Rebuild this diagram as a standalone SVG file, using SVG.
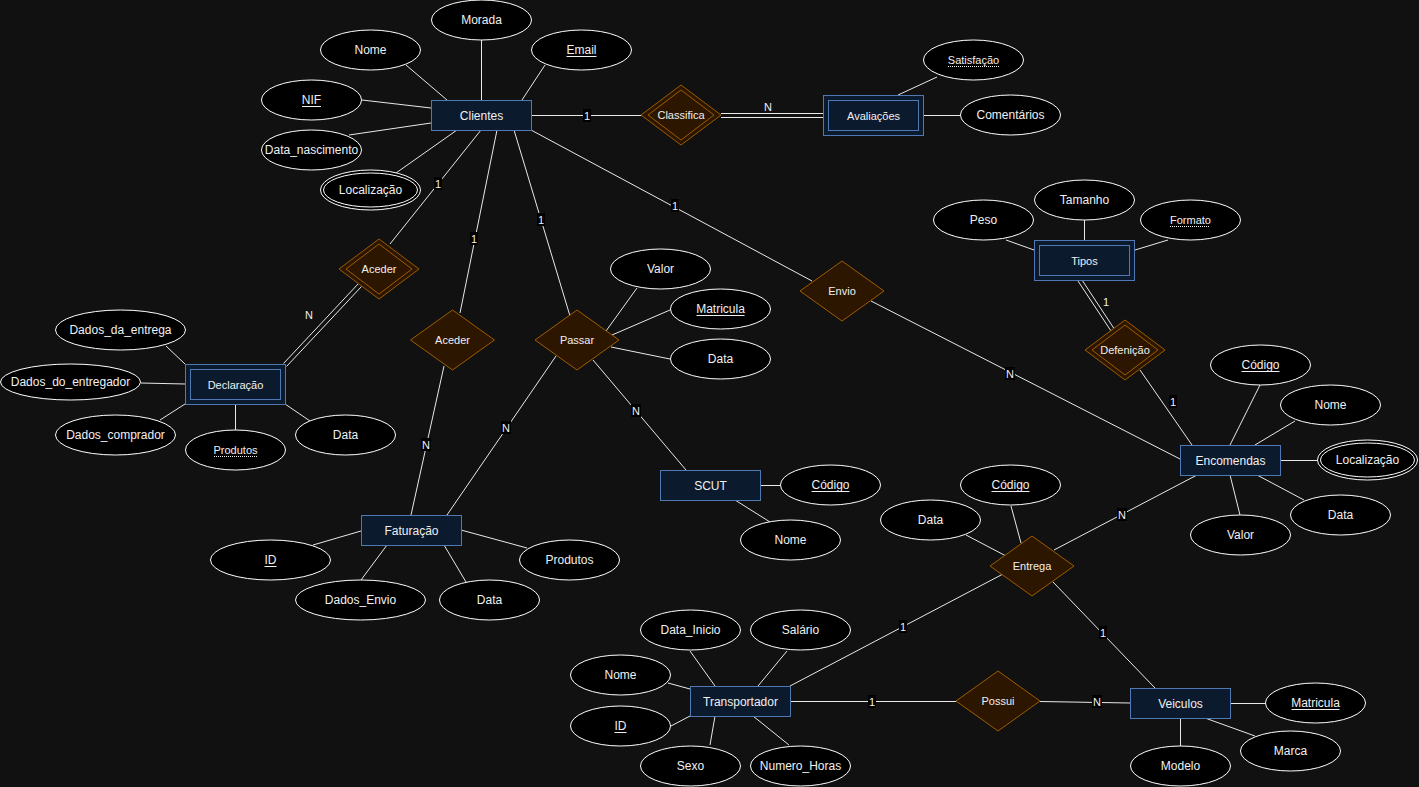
<svg xmlns="http://www.w3.org/2000/svg" width="1419" height="787" viewBox="0 0 1419 787">
  <style>
    .bg { fill: #111111; }
    .ent { fill: #0c1a2e; stroke: #5079b4; stroke-width: 1; }
    .attr { fill: #000000; stroke: #ffffff; stroke-width: 1; }
    .rel { fill: #2c1600; stroke: #9e5b00; stroke-width: 1; }
    .ln { stroke: #e8e8e8; stroke-width: 1; fill: none; }
    .ul { stroke: #f0f0f0; stroke-width: 1; }
    .dul { stroke: #f0f0f0; stroke-width: 1; stroke-dasharray: 1 1; }
    .lblbg { fill: #000000; }
    text { font-family: "Liberation Sans", Arial, sans-serif; fill: #f0f0f0; text-anchor: middle; dominant-baseline: central; }
    .t12 { font-size: 12px; }
    .t11 { font-size: 11px; }
    .lbl { font-size: 11px; }
  </style>

  <rect class="bg" x="0" y="0" width="1419" height="787"/>

  <!-- connectors -->
  <g id="connectors">
    <!-- Clientes attributes -->
    <line class="ln" x1="406" y1="65" x2="447" y2="100"/>
    <line class="ln" x1="481.5" y1="40" x2="481.5" y2="100"/>
    <line class="ln" x1="545" y1="65" x2="522" y2="100"/>
    <line class="ln" x1="362" y1="100" x2="431" y2="108"/>
    <line class="ln" x1="349" y1="135" x2="431" y2="123"/>
    <line class="ln" x1="396" y1="173" x2="457" y2="130"/>
    <!-- Clientes relationships -->
    <line class="ln" x1="531" y1="115.5" x2="641" y2="115.5"/>
    <line class="ln" x1="481" y1="130" x2="390" y2="244"/>
    <line class="ln" x1="497" y1="130" x2="460" y2="313"/>
    <line class="ln" x1="514" y1="130" x2="570" y2="316"/>
    <line class="ln" x1="531" y1="130" x2="812" y2="281"/>
    <!-- Classifica to Avaliacoes (total participation) -->
    <line class="ln" x1="721" y1="113.5" x2="823" y2="113.5"/>
    <line class="ln" x1="721" y1="117.5" x2="823" y2="117.5"/>
    <!-- Avaliacoes attributes -->
    <line class="ln" x1="898" y1="95" x2="937" y2="77"/>
    <line class="ln" x1="923" y1="115.5" x2="960" y2="115.5"/>
    <!-- Aceder to Declaracao (total participation) -->
    <line class="ln" x1="358.5" y1="283.5" x2="283.5" y2="363.5"/>
    <line class="ln" x1="361.5" y1="286.5" x2="286.5" y2="366.5"/>
    <!-- Declaracao attributes -->
    <line class="ln" x1="166" y1="346" x2="185" y2="364"/>
    <line class="ln" x1="141" y1="383" x2="185" y2="384"/>
    <line class="ln" x1="160" y1="420" x2="185" y2="404"/>
    <line class="ln" x1="235.5" y1="404" x2="235.5" y2="430"/>
    <line class="ln" x1="310" y1="421" x2="285" y2="404"/>
    <!-- Aceder / Passar to Faturacao -->
    <line class="ln" x1="444" y1="366" x2="411" y2="515"/>
    <line class="ln" x1="556" y1="356" x2="447" y2="515"/>
    <!-- Passar attributes and SCUT -->
    <line class="ln" x1="606" y1="331" x2="637" y2="288"/>
    <line class="ln" x1="612" y1="335" x2="670" y2="310"/>
    <line class="ln" x1="611" y1="347" x2="670" y2="359"/>
    <line class="ln" x1="593" y1="360" x2="686" y2="470"/>
    <!-- SCUT attributes -->
    <line class="ln" x1="760" y1="485.5" x2="780" y2="485.5"/>
    <line class="ln" x1="735" y1="500" x2="770" y2="522"/>
    <!-- Faturacao attributes -->
    <line class="ln" x1="313" y1="545" x2="361" y2="531"/>
    <line class="ln" x1="361" y1="580" x2="387" y2="545"/>
    <line class="ln" x1="466" y1="582" x2="444" y2="545"/>
    <line class="ln" x1="527" y1="548" x2="461" y2="530"/>
    <!-- Envio to Encomendas -->
    <line class="ln" x1="871" y1="301" x2="1180" y2="459"/>
    <!-- Tipos attributes -->
    <line class="ln" x1="1006" y1="240" x2="1034" y2="250"/>
    <line class="ln" x1="1084.5" y1="220" x2="1084.5" y2="240"/>
    <line class="ln" x1="1168" y1="240" x2="1135" y2="250"/>
    <!-- Tipos to Defenicao (total participation) -->
    <line class="ln" x1="1078" y1="281" x2="1111" y2="331"/>
    <line class="ln" x1="1082" y1="280" x2="1115" y2="330"/>
    <!-- Defenicao to Encomendas -->
    <line class="ln" x1="1140" y1="370" x2="1192" y2="445"/>
    <!-- Encomendas attributes -->
    <line class="ln" x1="1260" y1="385" x2="1230" y2="445"/>
    <line class="ln" x1="1295" y1="421" x2="1255" y2="445"/>
    <line class="ln" x1="1280" y1="460.5" x2="1317" y2="460.5"/>
    <line class="ln" x1="1304" y1="500" x2="1257" y2="475"/>
    <line class="ln" x1="1240" y1="515" x2="1230" y2="475"/>
    <!-- Entrega -->
    <line class="ln" x1="966" y1="535" x2="1006" y2="556"/>
    <line class="ln" x1="1011" y1="506" x2="1021" y2="543"/>
    <line class="ln" x1="1054" y1="550" x2="1197" y2="475"/>
    <line class="ln" x1="1003" y1="574" x2="790" y2="686"/>
    <line class="ln" x1="1053" y1="582" x2="1155" y2="688"/>
    <!-- Transportador attributes -->
    <line class="ln" x1="690" y1="651" x2="715" y2="686"/>
    <line class="ln" x1="787" y1="651" x2="758" y2="686"/>
    <line class="ln" x1="668" y1="683" x2="690" y2="689"/>
    <line class="ln" x1="671" y1="726" x2="690" y2="716"/>
    <line class="ln" x1="715" y1="716" x2="710" y2="745"/>
    <line class="ln" x1="753" y1="716" x2="789" y2="745"/>
    <!-- Possui -->
    <line class="ln" x1="790" y1="701.5" x2="956" y2="701.5"/>
    <line class="ln" x1="1040" y1="701.5" x2="1130" y2="703"/>
    <!-- Veiculos attributes -->
    <line class="ln" x1="1230" y1="703.5" x2="1265" y2="703.5"/>
    <line class="ln" x1="1205" y1="718" x2="1255" y2="736"/>
    <line class="ln" x1="1180.5" y1="718" x2="1180.5" y2="746"/>

    <!-- cardinality labels -->
    <g class="lbls">
      <rect class="lblbg" x="583" y="109" width="8" height="13"/><text class="lbl" x="587" y="115.5">1</text>
      <text class="lbl" x="768" y="107">N</text>
      <rect class="lblbg" x="434" y="177" width="8" height="13"/><text class="lbl" x="438" y="184">1</text>
      <rect class="lblbg" x="470" y="232" width="8" height="13"/><text class="lbl" x="474" y="239">1</text>
      <rect class="lblbg" x="537" y="213" width="8" height="13"/><text class="lbl" x="541" y="220">1</text>
      <rect class="lblbg" x="671" y="199" width="8" height="13"/><text class="lbl" x="675" y="206">1</text>
      <text class="lbl" x="309" y="315">N</text>
      <rect class="lblbg" x="421" y="438" width="10" height="13"/><text class="lbl" x="426" y="445">N</text>
      <rect class="lblbg" x="501" y="421" width="10" height="13"/><text class="lbl" x="506" y="428">N</text>
      <rect class="lblbg" x="631" y="404" width="10" height="13"/><text class="lbl" x="636" y="411">N</text>
      <rect class="lblbg" x="1005" y="367" width="10" height="13"/><text class="lbl" x="1010" y="374">N</text>
      <text class="lbl" x="1106" y="302">1</text>
      <rect class="lblbg" x="1169" y="395" width="8" height="13"/><text class="lbl" x="1173" y="402">1</text>
      <rect class="lblbg" x="1117" y="508" width="10" height="13"/><text class="lbl" x="1122" y="515">N</text>
      <rect class="lblbg" x="899" y="620" width="8" height="13"/><text class="lbl" x="903" y="627">1</text>
      <rect class="lblbg" x="1099" y="626" width="8" height="13"/><text class="lbl" x="1103" y="633">1</text>
      <rect class="lblbg" x="868" y="695" width="8" height="13"/><text class="lbl" x="872" y="701.5">1</text>
      <rect class="lblbg" x="1092" y="695" width="10" height="13"/><text class="lbl" x="1097" y="701.5">N</text>
    </g>
  </g>

  <!-- Clientes -->
  <g id="clientes">
    <rect class="ent" x="431.5" y="100.5" width="100" height="30"/>
    <text class="t12" x="481.5" y="115.5">Clientes</text>
  </g>
  <g id="clientes-morada">
    <ellipse class="attr" cx="481.5" cy="20" rx="50" ry="20"/>
    <text class="t12" x="481.5" y="20">Morada</text>
  </g>
  <g id="clientes-nome">
    <ellipse class="attr" cx="370.5" cy="50" rx="50" ry="20"/>
    <text class="t12" x="370.5" y="50">Nome</text>
  </g>
  <g id="clientes-email">
    <ellipse class="attr" cx="581.5" cy="50" rx="50" ry="20"/>
    <text class="t12" x="581.5" y="50">Email</text>
    <line class="ul" x1="566.5" y1="56.5" x2="596.5" y2="56.5"/>
  </g>
  <g id="clientes-nif">
    <ellipse class="attr" cx="311.5" cy="100" rx="50" ry="20"/>
    <text class="t12" x="311.5" y="100">NIF</text>
    <line class="ul" x1="302" y1="106.5" x2="321" y2="106.5"/>
  </g>
  <g id="clientes-data-nascimento">
    <ellipse class="attr" cx="311.5" cy="150" rx="50" ry="20"/>
    <text class="t12" x="311.5" y="150">Data_nascimento</text>
  </g>
  <g id="clientes-localizacao">
    <ellipse class="attr" cx="370.5" cy="190" rx="50" ry="20"/>
    <ellipse class="attr" cx="370.5" cy="190" rx="47" ry="17"/>
    <text class="t12" x="370.5" y="190">Localização</text>
  </g>

  <!-- Classifica / Avaliacoes -->
  <g id="classifica">
    <polygon class="rel" points="681,85 721,115 681,145 641,115"/>
    <polygon class="rel" points="681,90 714,115 681,140 648,115"/>
    <text class="t11" x="681" y="115">Classifica</text>
  </g>
  <g id="avaliacoes">
    <rect class="ent" x="823.5" y="95.5" width="100" height="40"/>
    <rect class="ent" x="828.5" y="100.5" width="90" height="30"/>
    <text class="t11" x="873.5" y="115.5">Avaliações</text>
  </g>
  <g id="avaliacoes-satisfacao">
    <ellipse class="attr" cx="973.5" cy="60" rx="50" ry="20"/>
    <text class="t11" x="973.5" y="60">Satisfação</text>
    <line class="dul" x1="948" y1="66.5" x2="999" y2="66.5"/>
  </g>
  <g id="avaliacoes-comentarios">
    <ellipse class="attr" cx="1010.5" cy="115" rx="50" ry="20"/>
    <text class="t12" x="1010.5" y="115">Comentários</text>
  </g>

  <!-- Aceder / Declaracao -->
  <g id="aceder-declaracao">
    <polygon class="rel" points="379,239 419,269 379,299 339,269"/>
    <polygon class="rel" points="379,244 412,269 379,294 346,269"/>
    <text class="t11" x="379" y="269">Aceder</text>
  </g>
  <g id="declaracao">
    <rect class="ent" x="185.5" y="364.5" width="100" height="40"/>
    <rect class="ent" x="190.5" y="369.5" width="90" height="30"/>
    <text class="t11" x="235.5" y="384.5">Declaração</text>
  </g>
  <g id="declaracao-dados-entrega">
    <ellipse class="attr" cx="120.5" cy="330" rx="65" ry="20"/>
    <text class="t12" x="120.5" y="330">Dados_da_entrega</text>
  </g>
  <g id="declaracao-dados-entregador">
    <ellipse class="attr" cx="70.5" cy="382" rx="70" ry="18"/>
    <text class="t12" x="70.5" y="382">Dados_do_entregador</text>
  </g>
  <g id="declaracao-dados-comprador">
    <ellipse class="attr" cx="115.5" cy="435" rx="60" ry="20"/>
    <text class="t12" x="115.5" y="435">Dados_comprador</text>
  </g>
  <g id="declaracao-produtos">
    <ellipse class="attr" cx="235.5" cy="450" rx="50" ry="20"/>
    <text class="t11" x="235.5" y="450">Produtos</text>
    <line class="dul" x1="214" y1="456.5" x2="257" y2="456.5"/>
  </g>
  <g id="declaracao-data">
    <ellipse class="attr" cx="345.5" cy="435" rx="50" ry="20"/>
    <text class="t12" x="345.5" y="435">Data</text>
  </g>

  <!-- Aceder / Passar / Faturacao / SCUT -->
  <g id="aceder-faturacao">
    <polygon class="rel" points="452.5,310 494.5,340 452.5,370 410.5,340"/>
    <text class="t11" x="452.5" y="340">Aceder</text>
  </g>
  <g id="passar">
    <polygon class="rel" points="577,310 619,340 577,370 535,340"/>
    <text class="t11" x="577" y="340">Passar</text>
  </g>
  <g id="passar-valor">
    <ellipse class="attr" cx="660.5" cy="269" rx="50" ry="20"/>
    <text class="t12" x="660.5" y="269">Valor</text>
  </g>
  <g id="passar-matricula">
    <ellipse class="attr" cx="720.5" cy="309" rx="50" ry="20"/>
    <text class="t12" x="720.5" y="309">Matricula</text>
    <line class="ul" x1="696.5" y1="315.5" x2="744.5" y2="315.5"/>
  </g>
  <g id="passar-data">
    <ellipse class="attr" cx="720.5" cy="359" rx="50" ry="20"/>
    <text class="t12" x="720.5" y="359">Data</text>
  </g>
  <g id="scut">
    <rect class="ent" x="660.5" y="470.5" width="100" height="30"/>
    <text class="t12" x="710.5" y="485.5">SCUT</text>
  </g>
  <g id="scut-codigo">
    <ellipse class="attr" cx="830.5" cy="485" rx="50" ry="20"/>
    <text class="t12" x="830.5" y="485">Código</text>
    <line class="ul" x1="811.5" y1="491.5" x2="849.5" y2="491.5"/>
  </g>
  <g id="scut-nome">
    <ellipse class="attr" cx="790.5" cy="540" rx="50" ry="20"/>
    <text class="t12" x="790.5" y="540">Nome</text>
  </g>
  <g id="faturacao">
    <rect class="ent" x="361.5" y="515.5" width="100" height="30"/>
    <text class="t12" x="411.5" y="530.5">Faturação</text>
  </g>
  <g id="faturacao-id">
    <ellipse class="attr" cx="270.5" cy="560" rx="60" ry="20"/>
    <text class="t12" x="270.5" y="560">ID</text>
    <line class="ul" x1="264.5" y1="566.5" x2="276.5" y2="566.5"/>
  </g>
  <g id="faturacao-dados-envio">
    <ellipse class="attr" cx="360.5" cy="600" rx="65" ry="20"/>
    <text class="t12" x="360.5" y="600">Dados_Envio</text>
  </g>
  <g id="faturacao-data">
    <ellipse class="attr" cx="489.5" cy="600" rx="50" ry="20"/>
    <text class="t12" x="489.5" y="600">Data</text>
  </g>
  <g id="faturacao-produtos">
    <ellipse class="attr" cx="569.5" cy="560" rx="50" ry="20"/>
    <text class="t12" x="569.5" y="560">Produtos</text>
  </g>

  <!-- Envio -->
  <g id="envio">
    <polygon class="rel" points="842,261 884,291 842,321 800,291"/>
    <text class="t11" x="842" y="291">Envio</text>
  </g>

  <!-- Tipos / Defenicao -->
  <g id="tipos">
    <rect class="ent" x="1034.5" y="240.5" width="100" height="40"/>
    <rect class="ent" x="1039.5" y="245.5" width="90" height="30"/>
    <text class="t11" x="1084.5" y="260.5">Tipos</text>
  </g>
  <g id="tipos-peso">
    <ellipse class="attr" cx="983.5" cy="220" rx="50" ry="20"/>
    <text class="t12" x="983.5" y="220">Peso</text>
  </g>
  <g id="tipos-tamanho">
    <ellipse class="attr" cx="1084.5" cy="200" rx="50" ry="20"/>
    <text class="t12" x="1084.5" y="200">Tamanho</text>
  </g>
  <g id="tipos-formato">
    <ellipse class="attr" cx="1190.5" cy="220" rx="50" ry="20"/>
    <text class="t11" x="1190.5" y="220">Formato</text>
    <line class="dul" x1="1170" y1="226.5" x2="1210" y2="226.5"/>
  </g>
  <g id="defenicao">
    <polygon class="rel" points="1125,320 1165,350 1125,380 1085,350"/>
    <polygon class="rel" points="1125,325 1158,350 1125,375 1092,350"/>
    <text class="t11" x="1125" y="350">Defenição</text>
  </g>

  <!-- Encomendas -->
  <g id="encomendas">
    <rect class="ent" x="1180.5" y="445.5" width="100" height="30"/>
    <text class="t12" x="1230.5" y="460.5">Encomendas</text>
  </g>
  <g id="encomendas-codigo">
    <ellipse class="attr" cx="1260.5" cy="365" rx="50" ry="20"/>
    <text class="t12" x="1260.5" y="365">Código</text>
    <line class="ul" x1="1241.5" y1="371.5" x2="1279.5" y2="371.5"/>
  </g>
  <g id="encomendas-nome">
    <ellipse class="attr" cx="1330.5" cy="405" rx="50" ry="20"/>
    <text class="t12" x="1330.5" y="405">Nome</text>
  </g>
  <g id="encomendas-localizacao">
    <ellipse class="attr" cx="1367.5" cy="460" rx="50" ry="20"/>
    <ellipse class="attr" cx="1367.5" cy="460" rx="47" ry="17"/>
    <text class="t12" x="1367.5" y="460">Localização</text>
  </g>
  <g id="encomendas-data">
    <ellipse class="attr" cx="1340.5" cy="515" rx="50" ry="20"/>
    <text class="t12" x="1340.5" y="515">Data</text>
  </g>
  <g id="encomendas-valor">
    <ellipse class="attr" cx="1240.5" cy="535" rx="50" ry="20"/>
    <text class="t12" x="1240.5" y="535">Valor</text>
  </g>

  <!-- Entrega -->
  <g id="entrega">
    <polygon class="rel" points="1032,536 1074,566 1032,596 990,566"/>
    <text class="t11" x="1032" y="566">Entrega</text>
  </g>
  <g id="entrega-data">
    <ellipse class="attr" cx="930.5" cy="520" rx="50" ry="20"/>
    <text class="t12" x="930.5" y="520">Data</text>
  </g>
  <g id="entrega-codigo">
    <ellipse class="attr" cx="1010.5" cy="485" rx="50" ry="20"/>
    <text class="t12" x="1010.5" y="485">Código</text>
    <line class="ul" x1="991.5" y1="491.5" x2="1029.5" y2="491.5"/>
  </g>

  <!-- Transportador -->
  <g id="transportador">
    <rect class="ent" x="690.5" y="686.5" width="100" height="30"/>
    <text class="t12" x="740.5" y="701.5">Transportador</text>
  </g>
  <g id="transportador-data-inicio">
    <ellipse class="attr" cx="690.5" cy="630" rx="50" ry="20"/>
    <text class="t12" x="690.5" y="630">Data_Inicio</text>
  </g>
  <g id="transportador-salario">
    <ellipse class="attr" cx="800.5" cy="630" rx="50" ry="20"/>
    <text class="t12" x="800.5" y="630">Salário</text>
  </g>
  <g id="transportador-nome">
    <ellipse class="attr" cx="620.5" cy="675" rx="50" ry="20"/>
    <text class="t12" x="620.5" y="675">Nome</text>
  </g>
  <g id="transportador-id">
    <ellipse class="attr" cx="620.5" cy="726" rx="50" ry="20"/>
    <text class="t12" x="620.5" y="726">ID</text>
    <line class="ul" x1="614.5" y1="732.5" x2="626.5" y2="732.5"/>
  </g>
  <g id="transportador-sexo">
    <ellipse class="attr" cx="690.5" cy="766" rx="50" ry="20"/>
    <text class="t12" x="690.5" y="766">Sexo</text>
  </g>
  <g id="transportador-numero-horas">
    <ellipse class="attr" cx="800.5" cy="766" rx="50" ry="20"/>
    <text class="t12" x="800.5" y="766">Numero_Horas</text>
  </g>

  <!-- Possui / Veiculos -->
  <g id="possui">
    <polygon class="rel" points="998,671 1040,701 998,731 956,701"/>
    <text class="t11" x="998" y="701">Possui</text>
  </g>
  <g id="veiculos">
    <rect class="ent" x="1130.5" y="688.5" width="100" height="30"/>
    <text class="t12" x="1180.5" y="703.5">Veiculos</text>
  </g>
  <g id="veiculos-matricula">
    <ellipse class="attr" cx="1315.5" cy="703" rx="50" ry="20"/>
    <text class="t12" x="1315.5" y="703">Matricula</text>
    <line class="ul" x1="1291.5" y1="709.5" x2="1339.5" y2="709.5"/>
  </g>
  <g id="veiculos-marca">
    <ellipse class="attr" cx="1290.5" cy="751" rx="50" ry="20"/>
    <text class="t12" x="1290.5" y="751">Marca</text>
  </g>
  <g id="veiculos-modelo">
    <ellipse class="attr" cx="1180.5" cy="766" rx="50" ry="20"/>
    <text class="t12" x="1180.5" y="766">Modelo</text>
  </g>
</svg>
